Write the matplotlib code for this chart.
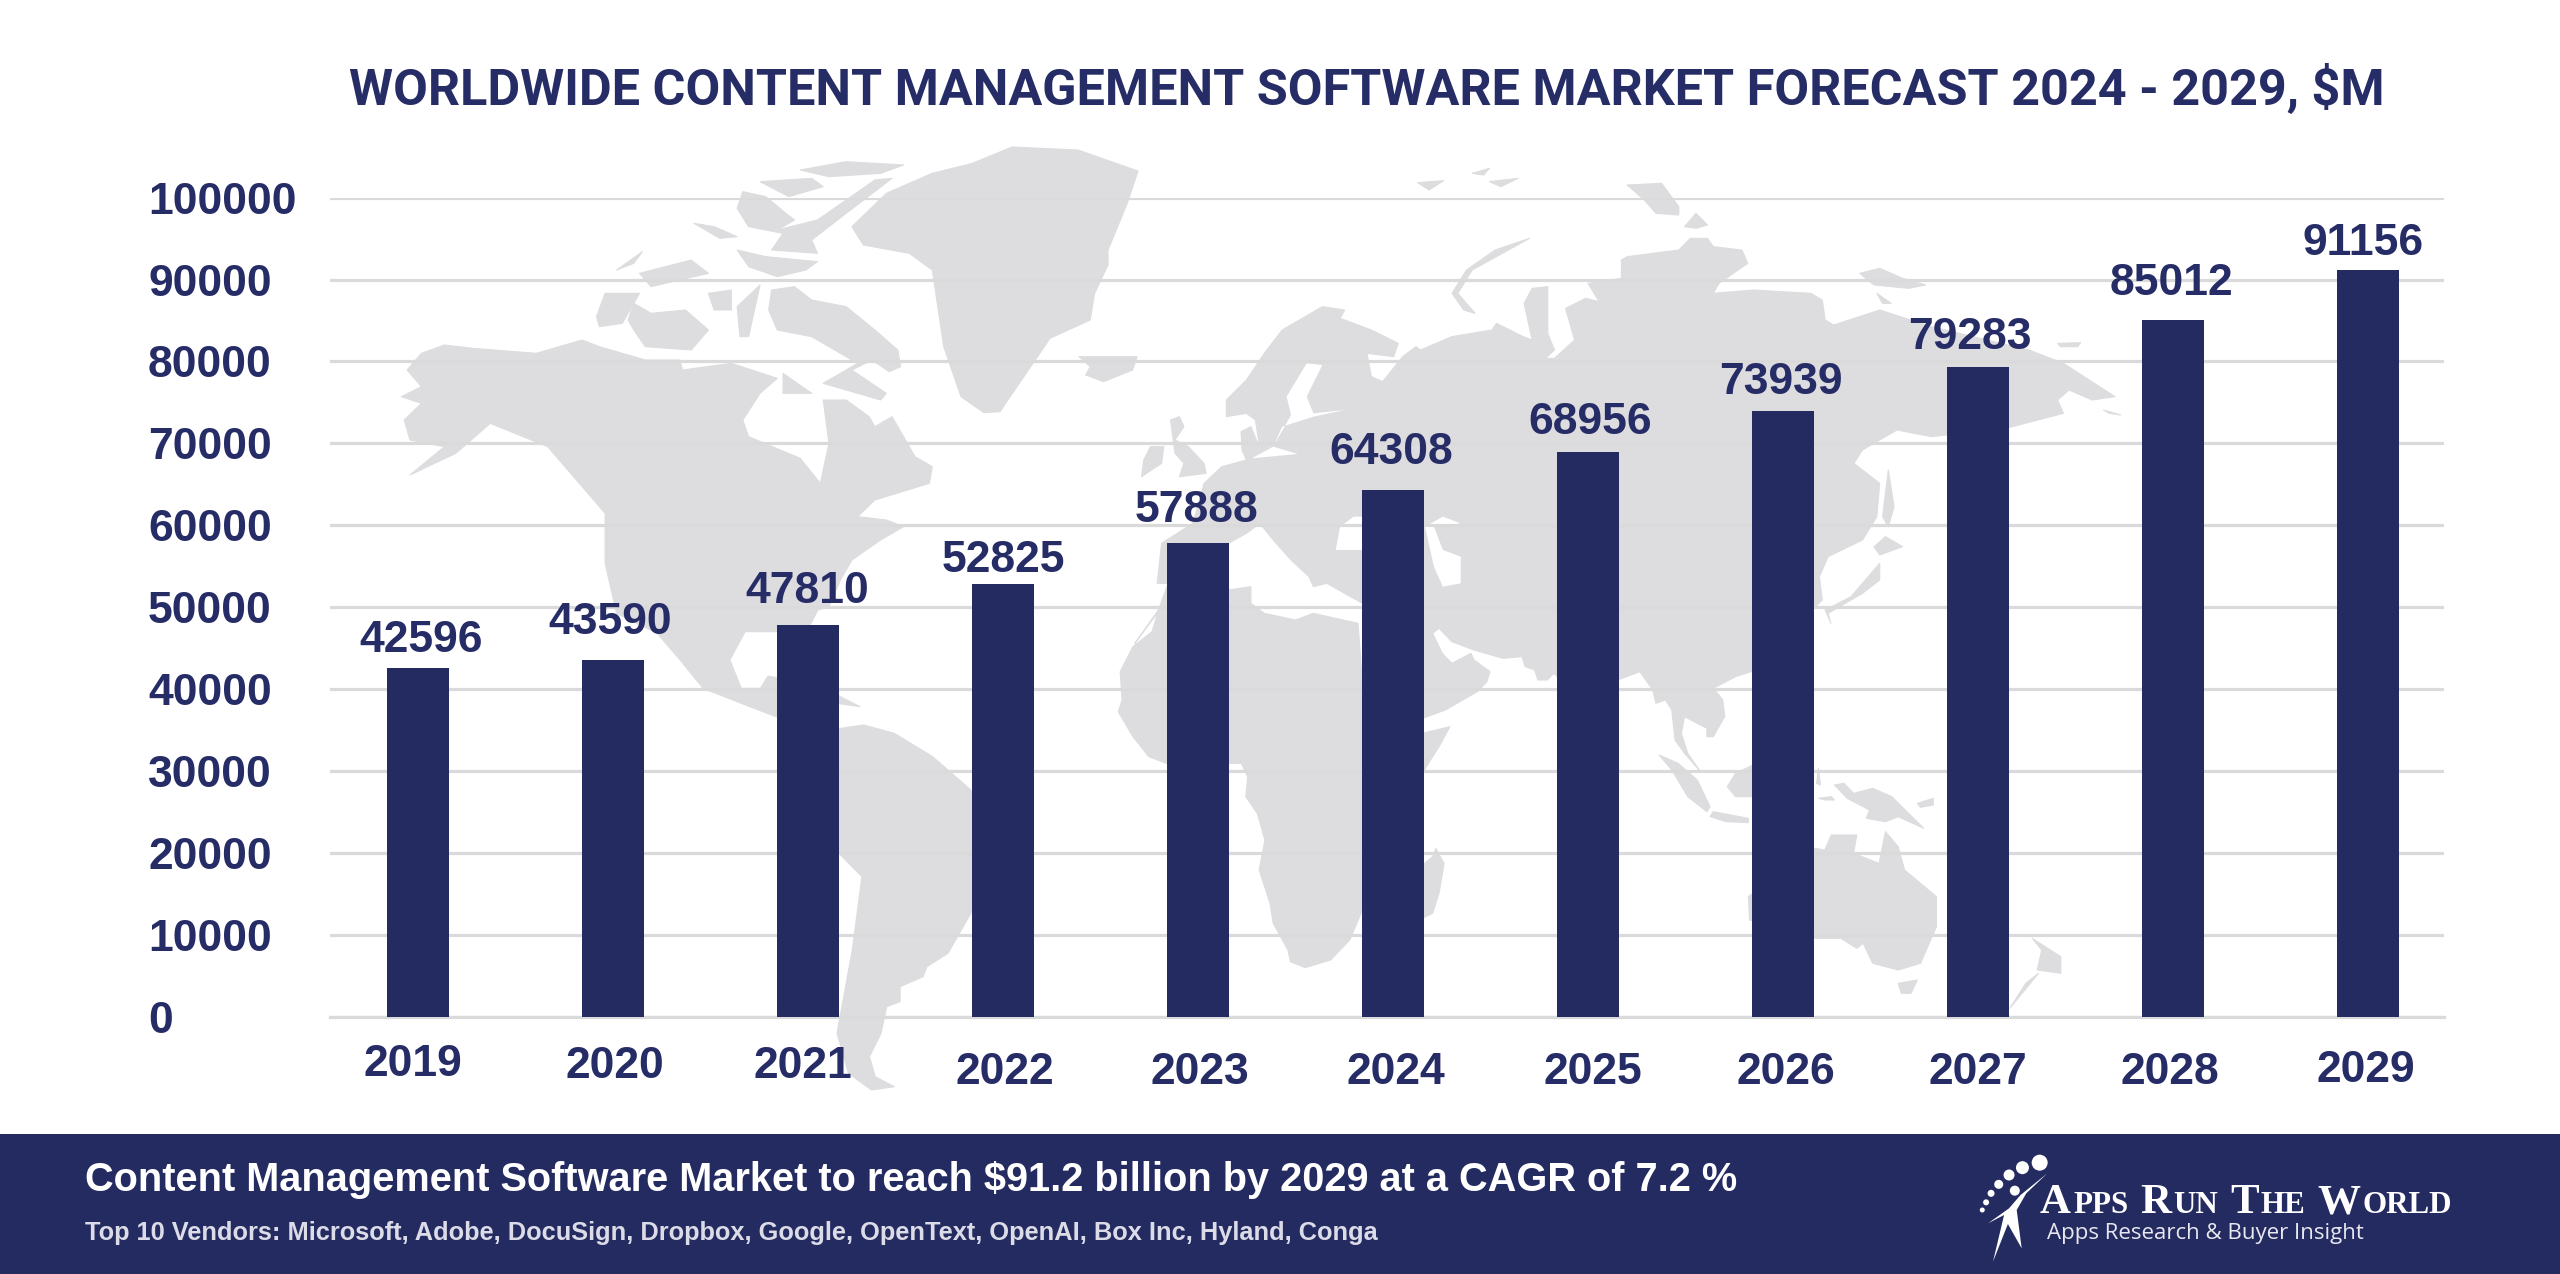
#!/usr/bin/env python3
"""Worldwide content management software market forecast bar chart."""

import matplotlib
matplotlib.use("Agg")
import matplotlib.pyplot as plt
from matplotlib.patches import Circle, Polygon, Rectangle

# Chart data
years = ["2019", "2020", "2021", "2022", "2023", "2024", "2025", "2026", "2027", "2028", "2029"]
revenue = [42596, 43590, 47810, 52825, 57888, 64308, 68956, 73939, 79283, 85012, 91156]
y_ticks = [0, 10000, 20000, 30000, 40000, 50000, 60000, 70000, 80000, 90000, 100000]

title = "WORLDWIDE CONTENT MANAGEMENT SOFTWARE MARKET FORECAST 2024 - 2029, $M"
headline = "Content Management Software Market to reach $91.2 billion by 2029 at a CAGR of 7.2 %"
vendors = "Top 10 Vendors: Microsoft, Adobe, DocuSign, Dropbox, Google, OpenText, OpenAI, Box Inc, Hyland, Conga"

# the labels in the original were nudged by hand, these are the offsets (px)
value_dx = [3, -3, -1, 0, -1, -2, 2, -2, -8, -2, -5]
value_dy = [27, 37, 34, 24, 32, 38, 29, 29, 30, 37, 27]
year_dx = [-5, 2, -5, 2, 2, 3, 5, 3, 0, -3, -2]
year_dy = [3, 5, 5, 10, 10, 11, 10, 11, 11, 10, 8]

NAVY = "#242b60"
TEXT = "#262c66"
LAND = "#dddcdf"
GRID = "#dadada"


def crop(x0, y0, w, pts):
    return [(x0 + px * w / 1568, y0 + py / 3) for px, py in pts]


def z3(pts):
    return crop(100, 130, 900, pts)


def z4(pts):
    return crop(550, 600, 600, pts)


def z5(pts):
    return crop(1050, 250, 700, pts)


def z6(pts):
    return crop(1050, 600, 1000, pts)


def z7(pts):
    return crop(1300, 150, 900, pts)


north_america = z3([(600, 645), (650, 655), (760, 670), (840, 630), (870, 650), (950, 690), (1010, 690),
                    (1015, 720), (1100, 700), (1180, 745), (1150, 790), (1120, 870), (1130, 920),
                    (1220, 985), (1255, 1060), (1270, 940), (1260, 810), (1300, 810), (1340, 860),
                    (1350, 890), (1380, 860), (1420, 980), (1450, 1010), (1445, 1060), (1350, 1110),
                    (1320, 1160), (1370, 1170), (1400, 1190), (1360, 1230), (1310, 1290), (1290, 1350),
                    (1270, 1430)]) + \
    z4([(700, 30), (680, 75), (600, 95), (510, 95), (470, 180), (500, 265), (550, 265), (570, 228),
        (600, 235), (600, 350), (590, 350), (500, 310), (400, 265), (340, 180), (280, 100)]) + \
    z3([(900, 1450), (880, 1300), (880, 1150), (780, 950), (680, 880), (620, 970), (540, 1035),
        (600, 950), (540, 930), (530, 870), (560, 820), (525, 800), (560, 770), (535, 720), (560, 670)])

south_america = z4([(760, 385), (820, 375), (900, 400), (1000, 470), (1100, 570), (1120, 700), (1100, 940),
                    (1040, 1060), (985, 1100), (975, 1130), (915, 1160), (915, 1205), (880, 1220),
                    (865, 1300), (835, 1370), (850, 1430), (900, 1460), (840, 1470), (780, 1420),
                    (750, 1300), (790, 1050), (815, 830), (755, 760), (700, 700), (700, 400)])

greenland = z3([(1310, 290), (1370, 190), (1450, 130), (1520, 100)]) + \
    [(1012, 147), (1078, 150), (1138, 171), (1127, 204)] + \
    z5([(130, 0), (130, 45), (100, 130), (90, 210), (0, 265)]) + \
    z3([(1568, 845), (1540, 848), (1500, 800), (1470, 650), (1450, 420), (1410, 370), (1330, 345)])

africa = z5([(240, 1090), (262, 1010), (400, 1020), (450, 1010), (450, 1060), (480, 1090), (550, 1110),
             (590, 1090), (690, 1120), (700, 1300)]) + \
    z6([(584, 400), (627, 380), (610, 440), (590, 500), (540, 700), (490, 930), (470, 1020), (440, 1080),
        (400, 1103), (377, 1085), (373, 1050), (350, 970), (345, 910), (328, 810), (337, 720), (325, 640),
        (307, 590), (310, 530), (300, 490), (182, 490), (155, 470), (130, 410), (107, 335), (113, 300),
        (110, 215), (130, 140), (160, 95), (170, 30)]) + \
    z5([(190, 1180)])

eurasia = z5([(320, 820), (345, 700), (385, 650), (440, 630), (430, 600), (428, 545), (450, 530), (470, 595),
              (460, 510), (440, 490), (395, 500), (395, 450), (440, 390), (480, 310), (520, 240), (610, 170),
              (660, 180), (650, 205), (720, 240), (780, 280), (770, 320), (710, 310), (720, 380), (745, 395),
              (790, 320), (820, 290), (830, 300), (900, 260), (990, 240), (1000, 220), (1060, 260),
              (1080, 270), (1062, 160), (1080, 115), (1115, 110), (1115, 250), (1130, 300), (1110, 325),
              (1130, 325), (1175, 270), (1155, 175), (1200, 145), (1230, 155), (1205, 100), (1280, 85)]) + \
    z7([(560, 330), (570, 320), (660, 300), (680, 265), (710, 265), (720, 290), (770, 300), (780, 340),
        (730, 400), (720, 430), (790, 420), (890, 430), (910, 450), (915, 510), (930, 525), (1010, 480),
        (1100, 530), (1270, 600), (1330, 640), (1420, 740), (1380, 750), (1340, 720), (1320, 750),
        (1330, 790), (1230, 835), (1100, 860), (1040, 840), (980, 900), (965, 940), (1010, 1000),
        (1005, 1100), (980, 1170), (920, 1220), (905, 1280), (910, 1350), (895, 1375)]) + \
    z6([(1150, 215), (1099, 215), (1075, 230), (1040, 265), (1055, 300), (1058, 350), (1040, 410),
        (1030, 410), (1030, 385), (995, 350), (990, 400), (1000, 460), (1020, 515), (995, 460), (980, 420),
        (975, 330), (965, 300), (950, 310), (945, 270), (925, 215), (890, 240), (850, 330), (790, 220),
        (780, 240), (765, 240), (760, 210), (745, 200), (740, 170), (710, 175), (665, 150), (630, 125),
        (610, 85), (600, 100), (615, 160), (630, 190), (660, 160), (665, 180), (690, 215), (685, 245),
        (670, 275), (620, 330), (584, 355), (530, 300)]) + \
    z5([(700, 1060), (620, 1000), (590, 1010), (580, 980), (540, 930), (500, 870), (470, 820), (440, 850),
        (400, 880), (262, 1000), (240, 1000), (250, 880)])

islands = [
    # arctic canada
    z3([(1220, 120), (1300, 95), (1400, 105), (1360, 130), (1270, 140)]),
    z3([(1150, 155), (1240, 145), (1260, 170), (1200, 200)]),
    z3([(1120, 185), (1160, 200), (1195, 250), (1210, 270), (1180, 300), (1250, 270), (1350, 150), (1380, 145),
        (1300, 250), (1240, 330), (1250, 370), (1170, 360), (1190, 310), (1130, 290), (1110, 235)]),
    z3([(1170, 480), (1210, 470), (1240, 510), (1300, 530), (1350, 600), (1390, 660), (1395, 710), (1375, 725),
        (1345, 690), (1310, 720), (1370, 790), (1360, 810), (1260, 760), (1320, 700), (1240, 620), (1180, 600),
        (1165, 540)]),
    z3([(930, 520), (960, 550), (1020, 540), (1060, 600), (1030, 660), (950, 650), (930, 600), (920, 570)]),
    z3([(880, 490), (940, 490), (910, 580), (870, 590), (865, 560)]),
    z3([(1190, 730), (1240, 790), (1190, 790)]),
    z3([(900, 420), (945, 365), (930, 400)]),
    z3([(940, 430), (1030, 390), (1060, 430), (960, 470)]),
    z3([(1060, 490), (1100, 480), (1100, 540), (1070, 540)]),
    z3([(1110, 530), (1150, 465), (1130, 620), (1115, 620)]),
    z3([(1110, 360), (1160, 380), (1250, 395), (1230, 420), (1180, 440), (1130, 410)]),
    z3([(1035, 280), (1070, 290), (1110, 320), (1080, 325)]),
    # europe and the atlantic
    z5([(270, 510), (290, 500), (300, 530), (280, 570), (310, 590), (345, 640), (350, 670), (290, 680),
        (300, 640), (280, 610)]),
    z5([(225, 590), (255, 590), (250, 640), (205, 680), (210, 630)]),
    z5([(65, 320), (130, 320), (195, 320), (185, 360), (120, 395), (80, 375), (90, 350)]),
    # russian arctic
    z7([(400, 265), (340, 300), (290, 360), (265, 430), (285, 480), (305, 490), (275, 430), (300, 360)]),
    z7([(205, 98), (250, 92), (225, 120)]),
    z7([(300, 70), (330, 55), (320, 75)]),
    z7([(330, 95), (380, 85), (350, 110)]),
    z7([(570, 105), (630, 100), (660, 170), (660, 195), (620, 190), (600, 150)]),
    z7([(670, 230), (690, 190), (710, 225), (690, 235)]),
    z7([(975, 370), (1010, 355), (1050, 385), (1090, 405), (1060, 415), (1000, 405)]),
    z7([(1005, 430), (1030, 460), (1015, 460)]),
    z7([(1320, 580), (1360, 578), (1355, 590), (1325, 590)]),
    z7([(1400, 780), (1430, 795), (1410, 790)]),
    # japan and sakhalin
    z7([(1010, 1240), (1010, 1290), (980, 1330), (940, 1370), (920, 1390), (925, 1420), (915, 1380), (960, 1340),
        (990, 1280)]),
    z7([(1020, 1160), (1050, 1190), (1010, 1215), (1000, 1190)]),
    z7([(1025, 960), (1035, 1070), (1025, 1130), (1015, 1100)]),
    # indonesia and oceania
    z6([(955, 465), (985, 490), (1015, 540), (1035, 620), (1030, 635), (1000, 590), (975, 510)]),
    z6([(1040, 635), (1095, 655), (1095, 668), (1060, 665), (1035, 650)]),
    z6([(1075, 520), (1110, 488), (1110, 590), (1075, 590), (1062, 560)]),
    z6([(1205, 505), (1208, 555), (1202, 550)]),
    z6([(1230, 555), (1245, 550), (1260, 580), (1290, 565), (1320, 590), (1370, 685), (1330, 650), (1310, 665),
        (1280, 655), (1285, 630), (1250, 595)]),
    z6([(1360, 610), (1385, 595), (1385, 615), (1365, 622)]),
    z6([(1205, 595), (1225, 590), (1230, 600), (1215, 600)]),
    z6([(1095, 890), (1199, 745), (1215, 750), (1225, 705), (1265, 705), (1260, 760), (1300, 790), (1310, 695),
        (1330, 740), (1340, 810), (1390, 890), (1390, 980), (1365, 1090), (1330, 1110), (1290, 1090), (1275, 1030),
        (1265, 1045), (1240, 1015), (1199, 1015), (1097, 960)]),
    z6([(1330, 1150), (1360, 1140), (1350, 1180), (1335, 1180)]),
    z6([(1540, 1015), (1585, 1070), (1585, 1120), (1548, 1110), (1555, 1050)]),
    z6([(1550, 1120), (1505, 1225), (1530, 1150)]),
    # madagascar, cuba
    z6([(605, 745), (612, 770), (618, 790), (610, 880), (600, 940), (584, 955), (560, 900), (584, 795), (600, 770)]),
    z4([(750, 285), (810, 320), (750, 310)]),
]

# inland seas are painted white over the land
seas = [
    z5([(452, 625), (555, 612), (500, 590), (540, 495), (530, 440), (575, 340), (610, 345), (575, 440), (590, 490),
        (660, 480), (590, 500), (520, 530), (500, 590)]),
    z5([(680, 800), (650, 830), (640, 900), (720, 900), (720, 800)]),
    z5([(880, 800), (920, 820), (860, 830), (880, 900), (920, 920), (920, 1000), (880, 1010), (860, 950), (840, 830)]),
]

# logo: runner figure and dots, crop coords of the logo zoom
logo_body = crop(1900, 1120, 600, [(385, 160), (330, 220), (305, 270), (318, 385), (282, 312), (243, 425),
                                   (272, 285), (230, 310), (285, 265), (315, 225)])
logo_dots = [(365, 128, 8), (320, 143, 6.5), (285, 165, 5.5), (258, 193, 4.5), (238, 220, 3.5),
             (225, 247, 3), (215, 270, 2.5), (300, 212, 5)]
logo_words = [("A", 1), ("PPS", 0.72), (" ", 1), ("R", 1), ("UN", 0.72), (" ", 1), ("T", 1), ("HE", 0.72),
              (" ", 1), ("W", 1), ("ORLD", 0.72)]

plt.rcParams["font.family"] = ["Liberation Sans", "DejaVu Sans"]

W, H = 2560, 1274
fig = plt.figure(figsize=(W / 100, H / 100), dpi=100, facecolor="white")
renderer = fig.canvas.get_renderer()


def fit_width(t, target):
    # scale the font until the text is as wide as in the reference
    t.set_fontsize(t.get_fontsize() * target / t.get_window_extent(renderer).width)


# Background layer in image pixels
bg = fig.add_axes([0, 0, 1, 1], zorder=0)
bg.set_xlim(0, W)
bg.set_ylim(H, 0)
bg.axis("off")
for shape in [north_america, south_america, greenland, africa, eurasia] + islands:
    bg.add_patch(Polygon(shape, closed=True, facecolor=LAND, edgecolor=LAND, linewidth=0.8, joinstyle="round"))
for shape in seas:
    bg.add_patch(Polygon(shape, closed=True, facecolor="white", edgecolor="none"))

# Chart
left, right, top, bottom = 330, 2444, 197.6, 1017
ax = fig.add_axes([left / W, 1 - bottom / H, (right - left) / W, (bottom - top) / H], zorder=1)
ax.patch.set_alpha(0)
xpos = list(range(len(years)))
ax.bar(xpos, revenue, width=0.318, color=NAVY, zorder=3)
ax.set_xlim((left - 418) / 195, (right - 418) / 195)
ax.set_ylim(0, 100000)
ax.set_yticks(y_ticks)
ax.set_yticklabels([str(v) for v in y_ticks], fontsize=32, fontweight="bold", color=TEXT, ha="left")
ax.tick_params(axis="y", length=0, pad=131)
ax.set_xticks([])
ax.grid(axis="y", color=GRID, linewidth=2.3, zorder=1)
ax.set_axisbelow(True)
for side in ax.spines:
    ax.spines[side].set_visible(False)
ax.axhline(0, color=GRID, linewidth=2.3, zorder=2, clip_on=False)

PX = 0.72  # points per image px at dpi 100
for i, v in enumerate(revenue):
    ax.annotate(str(v), (i, v), xytext=(value_dx[i] * PX, value_dy[i] * PX), textcoords="offset points",
                ha="center", va="center", fontsize=32, fontweight="bold", color=TEXT)
    ax.annotate(years[i], (i, 0), xytext=(year_dx[i] * PX, -(45 + year_dy[i]) * PX), textcoords="offset points",
                ha="center", va="center", fontsize=32, fontweight="bold", color=TEXT)

# Title
title_text = bg.text(1367, 90, title, ha="center", va="center", fontsize=36, fontweight="bold", color=TEXT,
                     family=["Roboto", "DejaVu Sans"])
fit_width(title_text, 2039)

# Footer band
bg.add_patch(Rectangle((0, 1134), W, H - 1134, facecolor=NAVY, edgecolor="none"))
head_text = bg.text(85, 1180, headline, ha="left", va="center", fontsize=29, fontweight="bold", color="white")
fit_width(head_text, 1649)
vend_text = bg.text(85, 1233, vendors, ha="left", va="center", fontsize=18.5, fontweight="bold", color="#dcdce8")
fit_width(vend_text, 1295)

# Logo
bg.add_patch(Polygon(logo_body, closed=True, facecolor="white", edgecolor="none"))
for px, py, r in logo_dots:
    cx, cy = crop(1900, 1120, 600, [(px, py)])[0]
    bg.add_patch(Circle((cx, cy), r, facecolor="white", edgecolor="none"))

x = 2040
for chunk, scale in logo_words:
    t = bg.text(x, 1213, chunk, ha="left", va="baseline", fontsize=31 * scale, fontweight="bold",
                family=["Liberation Serif", "DejaVu Serif"], color="white")
    if chunk == " ":
        x += 10
    else:
        x += t.get_window_extent(renderer).width + 2
sub_text = bg.text(2047, 1233, "Apps Research & Buyer Insight", ha="left", va="center", fontsize=16,
                   family=["Open Sans", "DejaVu Sans"], color="#e8e8f0")
fit_width(sub_text, 318)

fig.savefig("out.png", dpi=100, facecolor="white")
